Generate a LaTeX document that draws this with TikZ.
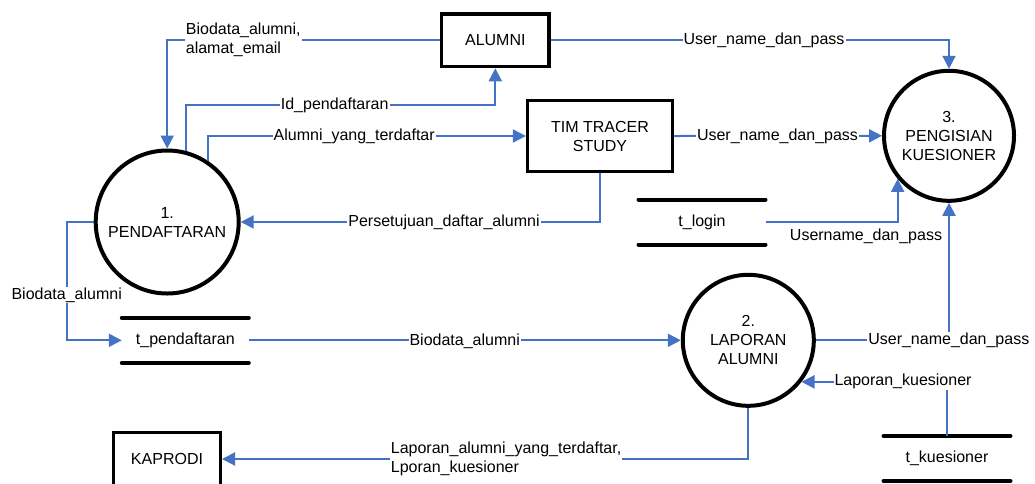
\documentclass[tikz,border=0pt]{standalone}
\usepackage{fontspec}
\setmainfont{Liberation Sans}
\usetikzlibrary{arrows.meta}
\definecolor{flowblue}{HTML}{4472C4}
\tikzset{
  proc/.style={circle, draw, line width=4pt, minimum size=#1, align=center, inner sep=0pt},
  entity/.style={draw, line width=3.3pt, align=center},
  store/.style={minimum width=127pt, minimum height=45pt, inner sep=0pt, outer sep=0pt},
  flow/.style={draw=flowblue, line width=2pt, -{Triangle[length=13pt,width=13pt]}},
  lbl/.style={fill=white, inner sep=1pt, align=left}
}
\begin{document}
\begin{tikzpicture}[x=1pt, y=-1pt, font=\fontsize{16}{19}\selectfont]
  \useasboundingbox (0,0) rectangle (1035,483);
  % processes
  \node (c1) [proc=143pt] at (167.2,222) {1.\\PENDAFTARAN};
  \node (c2) [proc=131pt] at (748.3,340.3) {2.\\LAPORAN\\ALUMNI};
  \node (c3) [proc=130pt] at (949,135.8) {3.\\PENGISIAN\\KUESIONER};
  % external entities
  \node (alumni) [entity, minimum width=107.4pt, minimum height=52.7pt] at (495.3,40.3) {ALUMNI};
  \node (tim) [entity, minimum width=145pt, minimum height=71pt] at (600,136) {TIM TRACER\\STUDY};
  \node (kaprodi) [entity, minimum width=106.7pt, minimum height=52.7pt] at (167,459) {KAPRODI};
  % data stores
  \node (tpend) [store] at (185.3,340.3) {t\_pendaftaran};
  \node (tlogin) [store] at (702,222) {t\_login};
  \node (tkues) [store] at (947,458.5) {t\_kuesioner};
  \foreach \s in {tpend, tlogin, tkues}
  {
    \draw [line width=4pt, line cap=round] (\s.north west) -- (\s.north east);
    \draw [line width=4pt, line cap=round] (\s.south west) -- (\s.south east);
  }
  % bends used by the flows
  \coordinate (idbend) at (334.7,105);
  \coordinate (biobend) at (66.7,295);
  % flows
  \draw [flow] (alumni.west) -| (c1.north);
  \draw [flow] (c1.75.5) |- (idbend) -| (alumni.south);
  \draw [flow] (c1.56) |- (tim.west);
  \draw [flow] (tim.south) |- (c1.east);
  \draw [flow] (alumni.east) -| (c3.north);
  \draw [flow] (tim.east) -- (c3.west);
  \draw [flow] (tlogin.east) -| (c3.220);
  \draw [flow] (c2.east) -| (c3.south);
  \draw [flow] (tkues.north) |- (c2.-38);
  \draw [flow] (c2.south) |- (kaprodi.east);
  \draw [flow] (c1.west) -| (biobend) |- (tpend.west);
  \draw [flow] (tpend.east) -- (c2.west);
  % labels
  \node (l1) [lbl, anchor=west] at (184.7,40) {Biodata\_alumni,\\alamat\_email};
  \node (l2) [lbl] at (idbend) {Id\_pendaftaran};
  \node (l3) [lbl] at (354.2,136) {Alumni\_yang\_terdaftar};
  \node (l4) [lbl] at (444,222) {Persetujuan\_daftar\_alumni};
  \node (l5) [lbl] at (764,40) {User\_name\_dan\_pass};
  \node (l6) [lbl] at (777.5,136) {User\_name\_dan\_pass};
  \node (l7) [lbl] at (866,236) {Username\_dan\_pass};
  \node (l8) [lbl] at (948.8,340.3) {User\_name\_dan\_pass};
  \node (l9) [lbl] at (903,381.3) {Laporan\_kuesioner};
  \node (l10) [lbl, anchor=west] at (389.7,459) {Laporan\_alumni\_yang\_terdaftar,\\Lporan\_kuesioner};
  \node (l11) [lbl] at (biobend) {Biodata\_alumni};
  \node (l12) [lbl] at (464.7,341) {Biodata\_alumni};
\end{tikzpicture}
\end{document}
